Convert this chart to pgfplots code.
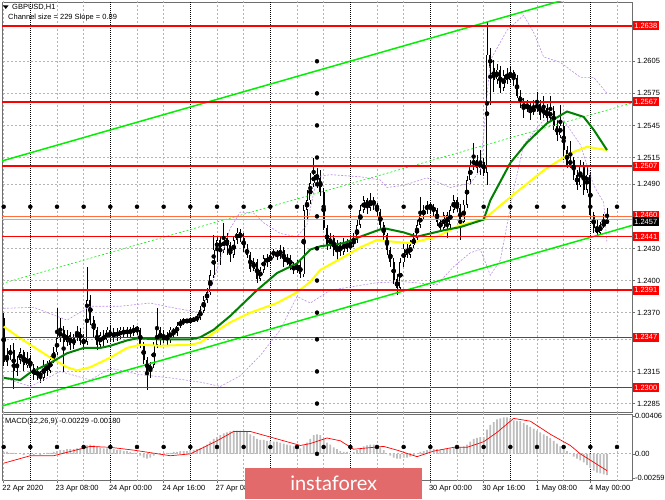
\documentclass[border=0pt]{standalone}
\usepackage{pgfplots}
\pgfplotsset{compat=1.18}
\usepackage{pgfplotstable}
\usepackage{fontspec}
\setmainfont{Liberation Sans}
\newfontfamily\logofont{Lato}
\definecolor{mtgreen}{RGB}{0,128,0}
\definecolor{chgreen}{RGB}{0,240,0}
\definecolor{mtyellow}{RGB}{255,255,0}
\definecolor{bandpurple}{RGB}{190,140,235}
\definecolor{gridgray}{RGB}{180,180,180}
\definecolor{framegray}{RGB}{110,110,110}
\definecolor{logored}{RGB}{226,106,106}
\definecolor{histgray}{RGB}{190,190,190}
\definecolor{lvlorange}{RGB}{255,110,60}
\newcommand\lbl{\fontsize{7.5}{8}\selectfont}

\pgfplotstableread{
i o h l c m
0 1.2365 1.2370 1.2320 1.2324 0.0002
1 1.2324 1.2337 1.2320 1.2330 0.0002
2 1.2330 1.2340 1.2326 1.2335 0.0001
3 1.2335 1.2342 1.2299 1.2315 0.0001
4 1.2315 1.2329 1.2311 1.2326 0.0000
5 1.2326 1.2337 1.2322 1.2333 0.0000
6 1.2333 1.2335 1.2316 1.2321 -0.0001
7 1.2321 1.2333 1.2318 1.2328 0.0000
8 1.2328 1.2330 1.2313 1.2318 -0.0001
9 1.2318 1.2322 1.2307 1.2312 -0.0001
10 1.2312 1.2320 1.2307 1.2315 0.0000
11 1.2315 1.2316 1.2304 1.2309 -0.0001
12 1.2309 1.2326 1.2306 1.2321 0.0000
13 1.2321 1.2325 1.2311 1.2316 0.0001
14 1.2316 1.2329 1.2314 1.2326 0.0001
15 1.2326 1.2338 1.2323 1.2333 0.0002
16 1.2333 1.2374 1.2330 1.2346 0.0003
17 1.2346 1.2365 1.2343 1.2354 0.0004
18 1.2354 1.2358 1.2315 1.2343 0.0004
19 1.2343 1.2354 1.2339 1.2349 0.0005
20 1.2349 1.2352 1.2335 1.2340 0.0005
21 1.2340 1.2350 1.2336 1.2346 0.0005
22 1.2346 1.2358 1.2344 1.2352 0.0006
23 1.2352 1.2356 1.2340 1.2344 0.0006
24 1.2344 1.2350 1.2335 1.2343 0.0006
25 1.2343 1.2413 1.2340 1.2382 0.0009
26 1.2382 1.2387 1.2359 1.2363 0.0010
27 1.2363 1.2367 1.2346 1.2354 0.0009
28 1.2354 1.2357 1.2335 1.2340 0.0008
29 1.2340 1.2352 1.2337 1.2349 0.0007
30 1.2349 1.2354 1.2339 1.2344 0.0006
31 1.2344 1.2357 1.2342 1.2354 0.0006
32 1.2354 1.2358 1.2343 1.2346 0.0005
33 1.2346 1.2356 1.2343 1.2352 0.0005
34 1.2352 1.2356 1.2344 1.2348 0.0004
35 1.2348 1.2357 1.2345 1.2354 0.0004
36 1.2354 1.2357 1.2346 1.2350 0.0003
37 1.2350 1.2357 1.2347 1.2354 0.0003
38 1.2354 1.2357 1.2347 1.2351 0.0002
39 1.2351 1.2359 1.2348 1.2356 0.0001
40 1.2356 1.2358 1.2349 1.2354 0.0000
41 1.2354 1.2356 1.2337 1.2340 -0.0002
42 1.2340 1.2343 1.2322 1.2326 -0.0004
43 1.2326 1.2329 1.2298 1.2315 -0.0005
44 1.2315 1.2324 1.2309 1.2321 -0.0004
45 1.2321 1.2343 1.2318 1.2340 -0.0002
46 1.2340 1.2374 1.2337 1.2354 0.0000
47 1.2354 1.2357 1.2340 1.2344 0.0000
48 1.2344 1.2354 1.2342 1.2349 0.0001
49 1.2349 1.2352 1.2340 1.2344 0.0001
50 1.2344 1.2357 1.2342 1.2354 0.0001
51 1.2354 1.2356 1.2346 1.2351 0.0002
52 1.2351 1.2361 1.2348 1.2358 0.0002
53 1.2358 1.2364 1.2356 1.2361 0.0003
54 1.2361 1.2365 1.2359 1.2363 0.0003
55 1.2363 1.2364 1.2360 1.2362 0.0003
56 1.2362 1.2365 1.2361 1.2363 0.0004
57 1.2363 1.2366 1.2361 1.2364 0.0004
58 1.2364 1.2369 1.2361 1.2365 0.0005
59 1.2365 1.2376 1.2363 1.2372 0.0006
60 1.2372 1.2386 1.2370 1.2382 0.0008
61 1.2382 1.2393 1.2379 1.2389 0.0010
62 1.2389 1.2410 1.2387 1.2405 0.0013
63 1.2405 1.2443 1.2402 1.2429 0.0016
64 1.2429 1.2442 1.2417 1.2438 0.0018
65 1.2438 1.2442 1.2415 1.2429 0.0020
66 1.2429 1.2454 1.2426 1.2440 0.0022
67 1.2440 1.2445 1.2424 1.2433 0.0023
68 1.2433 1.2436 1.2417 1.2424 0.0024
69 1.2424 1.2442 1.2421 1.2438 0.0025
70 1.2438 1.2449 1.2434 1.2445 0.0025
71 1.2445 1.2448 1.2436 1.2440 0.0025
72 1.2440 1.2444 1.2427 1.2430 0.0025
73 1.2430 1.2434 1.2421 1.2424 0.0024
74 1.2424 1.2427 1.2408 1.2411 0.0021
75 1.2411 1.2421 1.2409 1.2417 0.0019
76 1.2417 1.2420 1.2398 1.2402 0.0016
77 1.2402 1.2413 1.2400 1.2410 0.0015
78 1.2410 1.2424 1.2407 1.2421 0.0015
79 1.2421 1.2425 1.2413 1.2417 0.0014
80 1.2417 1.2427 1.2415 1.2424 0.0014
81 1.2424 1.2430 1.2421 1.2427 0.0013
82 1.2427 1.2429 1.2419 1.2423 0.0013
83 1.2423 1.2433 1.2420 1.2429 0.0012
84 1.2429 1.2431 1.2413 1.2417 0.0011
85 1.2417 1.2425 1.2415 1.2421 0.0010
86 1.2421 1.2424 1.2410 1.2413 0.0009
87 1.2413 1.2417 1.2406 1.2410 0.0008
88 1.2410 1.2419 1.2407 1.2415 0.0007
89 1.2415 1.2418 1.2402 1.2406 0.0006
90 1.2406 1.2471 1.2403 1.2466 0.0009
91 1.2466 1.2485 1.2458 1.2475 0.0012
92 1.2475 1.2501 1.2472 1.2491 0.0016
93 1.2491 1.2515 1.2488 1.2499 0.0020
94 1.2499 1.2505 1.2487 1.2496 0.0021
95 1.2496 1.2503 1.2479 1.2483 0.0020
96 1.2483 1.2487 1.2447 1.2449 0.0016
97 1.2449 1.2452 1.2429 1.2433 0.0012
98 1.2433 1.2445 1.2430 1.2440 0.0010
99 1.2440 1.2443 1.2423 1.2429 0.0007
100 1.2429 1.2438 1.2419 1.2433 0.0005
101 1.2433 1.2436 1.2423 1.2427 0.0003
102 1.2427 1.2440 1.2424 1.2436 0.0002
103 1.2436 1.2439 1.2427 1.2430 0.0002
104 1.2430 1.2440 1.2429 1.2434 0.0001
105 1.2434 1.2445 1.2431 1.2438 0.0002
106 1.2438 1.2457 1.2435 1.2452 0.0004
107 1.2452 1.2471 1.2449 1.2466 0.0006
108 1.2466 1.2479 1.2463 1.2475 0.0008
109 1.2475 1.2477 1.2462 1.2468 0.0009
110 1.2468 1.2482 1.2465 1.2475 0.0010
111 1.2475 1.2478 1.2466 1.2471 0.0010
112 1.2471 1.2473 1.2460 1.2464 0.0009
113 1.2464 1.2467 1.2447 1.2452 0.0007
114 1.2452 1.2455 1.2438 1.2443 0.0004
115 1.2443 1.2445 1.2424 1.2429 0.0000
116 1.2429 1.2431 1.2413 1.2417 -0.0002
117 1.2417 1.2421 1.2397 1.2401 -0.0004
118 1.2401 1.2406 1.2387 1.2393 -0.0005
119 1.2393 1.2421 1.2389 1.2417 -0.0005
120 1.2417 1.2434 1.2413 1.2430 -0.0004
121 1.2430 1.2434 1.2421 1.2424 -0.0004
122 1.2424 1.2438 1.2421 1.2433 -0.0003
123 1.2433 1.2444 1.2430 1.2440 -0.0002
124 1.2440 1.2457 1.2438 1.2452 0.0000
125 1.2452 1.2478 1.2449 1.2461 0.0002
126 1.2461 1.2471 1.2457 1.2466 0.0003
127 1.2466 1.2474 1.2462 1.2471 0.0004
128 1.2471 1.2473 1.2463 1.2468 0.0005
129 1.2468 1.2472 1.2460 1.2466 0.0005
130 1.2466 1.2468 1.2451 1.2455 0.0005
131 1.2455 1.2458 1.2445 1.2449 0.0004
132 1.2449 1.2464 1.2446 1.2461 0.0005
133 1.2461 1.2464 1.2440 1.2452 0.0005
134 1.2452 1.2470 1.2449 1.2466 0.0006
135 1.2466 1.2480 1.2463 1.2475 0.0007
136 1.2475 1.2478 1.2464 1.2468 0.0007
137 1.2468 1.2472 1.2438 1.2455 0.0007
138 1.2455 1.2475 1.2452 1.2471 0.0008
139 1.2471 1.2498 1.2468 1.2494 0.0010
140 1.2494 1.2513 1.2490 1.2508 0.0013
141 1.2508 1.2529 1.2503 1.2513 0.0016
142 1.2513 1.2517 1.2501 1.2505 0.0017
143 1.2505 1.2522 1.2499 1.2511 0.0018
144 1.2511 1.2515 1.2498 1.2501 0.0018
145 1.2501 1.2642 1.2489 1.2611 0.0026
146 1.2611 1.2617 1.2564 1.2599 0.0031
147 1.2599 1.2606 1.2576 1.2588 0.0034
148 1.2588 1.2603 1.2584 1.2597 0.0037
149 1.2597 1.2601 1.2575 1.2580 0.0038
150 1.2580 1.2597 1.2577 1.2592 0.0039
151 1.2592 1.2599 1.2584 1.2588 0.0039
152 1.2588 1.2601 1.2585 1.2595 0.0038
153 1.2595 1.2597 1.2582 1.2589 0.0036
154 1.2589 1.2592 1.2571 1.2573 0.0035
155 1.2573 1.2578 1.2561 1.2566 0.0035
156 1.2566 1.2571 1.2552 1.2561 0.0033
157 1.2561 1.2569 1.2558 1.2564 0.0031
158 1.2564 1.2567 1.2550 1.2558 0.0029
159 1.2558 1.2569 1.2555 1.2561 0.0027
160 1.2561 1.2576 1.2558 1.2565 0.0025
161 1.2565 1.2569 1.2550 1.2555 0.0023
162 1.2555 1.2573 1.2552 1.2561 0.0021
163 1.2561 1.2565 1.2546 1.2552 0.0019
164 1.2552 1.2573 1.2548 1.2559 0.0017
165 1.2559 1.2563 1.2541 1.2545 0.0014
166 1.2545 1.2550 1.2531 1.2536 0.0011
167 1.2536 1.2564 1.2533 1.2545 0.0008
168 1.2545 1.2548 1.2513 1.2522 0.0005
169 1.2522 1.2526 1.2505 1.2508 0.0003
170 1.2508 1.2531 1.2505 1.2513 0.0000
171 1.2513 1.2516 1.2494 1.2499 -0.0003
172 1.2499 1.2503 1.2485 1.2489 -0.0005
173 1.2489 1.2513 1.2487 1.2508 -0.0007
174 1.2508 1.2511 1.2480 1.2485 -0.0009
175 1.2485 1.2508 1.2482 1.2499 -0.0012
176 1.2499 1.2501 1.2458 1.2461 -0.0015
177 1.2461 1.2464 1.2445 1.2449 -0.0018
178 1.2449 1.2457 1.2441 1.2445 -0.0020
179 1.2445 1.2455 1.2443 1.2452 -0.0021
180 1.2452 1.2462 1.2449 1.2453 -0.0022
181 1.2453 1.2468 1.2453 1.2457 -0.00229
}\bars

\tikzset{lvlbox/.style={fill=red, text=white, anchor=west, font=\lbl, inner xsep=1.5pt, inner ysep=0pt, minimum height=9pt, xshift=0.6pt}}

\begin{document}
\begin{tikzpicture}
\fill[white] (0,0) rectangle (665pt,499pt);
\useasboundingbox (0,0) rectangle (665pt,499pt);

% ---------------- main price panel ----------------
\begin{axis}[
  at={(2pt,497pt)}, anchor=north west,
  scale only axis, width=630pt, height=410pt,
  xmin=-0.5, xmax=188.5, ymin=1.22771, ymax=1.26604,
  axis line style={framegray, line width=0.8pt},
  xtick=\empty,
  ytick={1.2285,1.2315,1.2345,1.2370,1.2400,1.2430,1.2460,1.2490,1.2515,1.2545,1.2575,1.2605},
  yticklabels={1.2285,1.2315,,1.2370,1.2400,1.2430,,1.2490,1.2515,1.2545,1.2575,1.2605},
  ytick pos=right, tick align=outside, major tick length=3pt,
  ytick style={framegray, line width=0.6pt},
  yticklabel style={font=\lbl, xshift=-1.5pt},
]
% grid: horizontal dashed lines at the price ticks
\addplot[only marks, mark=none, forget plot, error bars/.cd, x dir=both, x explicit, error mark=none,
  error bar style={gridgray, line width=0.8pt, dash pattern=on 2pt off 2pt}] coordinates {
(94,1.2285) +- (95,0) (94,1.2315) +- (95,0) (94,1.2345) +- (95,0) (94,1.2370) +- (95,0)
(94,1.2400) +- (95,0) (94,1.2430) +- (95,0) (94,1.2460) +- (95,0) (94,1.2490) +- (95,0)
(94,1.2515) +- (95,0) (94,1.2545) +- (95,0) (94,1.2575) +- (95,0) (94,1.2605) +- (95,0)};
% grid: vertical dashed lines every 8 bars
\addplot[only marks, mark=none, forget plot, error bars/.cd, y dir=both, y explicit, error mark=none,
  error bar style={gridgray, line width=0.8pt, dash pattern=on 2pt off 2pt}] coordinates {
(0,1.2469) +- (0,0.0200) (16,1.2469) +- (0,0.0200) (24,1.2469) +- (0,0.0200) (40,1.2469) +- (0,0.0200)
(48,1.2469) +- (0,0.0200) (64,1.2469) +- (0,0.0200) (72,1.2469) +- (0,0.0200) (88,1.2469) +- (0,0.0200)
(96,1.2469) +- (0,0.0200) (112,1.2469) +- (0,0.0200) (120,1.2469) +- (0,0.0200) (136,1.2469) +- (0,0.0200)
(144,1.2469) +- (0,0.0200) (160,1.2469) +- (0,0.0200) (168,1.2469) +- (0,0.0200) (184,1.2469) +- (0,0.0200)};
% day separators: black dotted
\addplot[only marks, mark=none, forget plot, error bars/.cd, y dir=both, y explicit, error mark=none,
  error bar style={black, line width=0.8pt, dash pattern=on 1pt off 1pt}] coordinates {
(8,1.2469) +- (0,0.0200) (32,1.2469) +- (0,0.0200) (56,1.2469) +- (0,0.0200) (80,1.2469) +- (0,0.0200)
(104,1.2469) +- (0,0.0200) (128,1.2469) +- (0,0.0200) (152,1.2469) +- (0,0.0200) (176,1.2469) +- (0,0.0200)};

% candles: wicks, bodies, white fill of rising bodies
\addplot[only marks, mark=none, forget plot, error bars/.cd, y dir=both, y explicit, error mark=none,
  error bar style={black, line width=0.6pt}]
  table[x=i, y expr={(\thisrow{h}+\thisrow{l})/2}, y error expr={(\thisrow{h}-\thisrow{l})/2}] {\bars};
\addplot[only marks, mark=none, forget plot, error bars/.cd, y dir=both, y explicit, error mark=none,
  error bar style={black, line width=2.2pt}]
  table[x=i, y expr={(\thisrow{o}+\thisrow{c})/2}, y error expr={max(abs(\thisrow{c}-\thisrow{o})/2,0.00003)}] {\bars};
\addplot[only marks, mark=none, forget plot, error bars/.cd, y dir=both, y explicit, error mark=none,
  error bar style={white, line width=1.0pt}]
  table[x=i, y expr={(\thisrow{o}+\thisrow{c})/2}, y error expr={max((\thisrow{c}-\thisrow{o})/2-0.00006,0)}] {\bars};

% envelope / band lines
\addplot[bandpurple, line width=0.6pt, dash pattern=on 2pt off 1.5pt, forget plot] coordinates {
(0,1.2374) (9,1.2375) (19,1.2363) (26,1.2376) (35,1.2376) (44,1.2379) (50,1.2375) (59,1.2370) (63,1.2401) (68,1.2449) (71,1.2464) (75,1.2463) (78,1.2454) (83,1.2444) (88,1.2441) (91,1.2452) (94,1.2497) (98,1.2499) (107,1.2497) (113,1.2494) (115,1.2487) (120,1.2489) (127,1.2496) (134,1.2487) (140,1.2491) (143,1.2503) (146,1.2606) (151,1.2634) (156,1.2648) (159,1.2632) (162,1.2609) (167,1.2604) (173,1.2590) (177,1.2590) (181,1.2575)};
\addplot[bandpurple, line width=0.6pt, dash pattern=on 2pt off 1.5pt, forget plot] coordinates {
(0,1.2309) (8,1.2301) (17,1.2315) (26,1.2307) (32,1.2318) (41,1.2312) (50,1.2309) (59,1.2305) (65,1.2301) (71,1.2311) (77,1.2330) (83,1.2354) (88,1.2385) (92,1.2379) (98,1.2391) (104,1.2394) (112,1.2398) (120,1.2399) (130,1.2396) (135,1.2413) (140,1.2426) (143,1.2429) (146,1.2405) (149,1.2419) (153,1.2485) (156,1.2527) (162,1.2550) (168,1.2550) (173,1.2527) (177,1.2489) (180,1.2473) (181,1.2435)};

% channel
\addplot[chgreen, line width=1.5pt, forget plot] coordinates {(-0.5,1.25118) (188.5,1.26805)};
\addplot[chgreen, line width=1.5pt, forget plot] coordinates {(-0.5,1.22827) (188.5,1.24515)};
\addplot[chgreen, line width=0.6pt, dash pattern=on 2pt off 2pt, forget plot] coordinates {(-0.5,1.23972) (188.5,1.25660)};

% moving averages
\addplot[mtyellow, line width=2pt, forget plot] coordinates {
(0,1.2357) (5,1.2346) (9,1.2338) (14,1.2328) (19,1.2319) (22,1.2316) (26,1.2319) (32,1.2328) (37,1.2337) (41,1.2340) (47,1.2339) (56,1.2340) (59,1.2342) (63,1.2351) (68,1.2361) (74,1.2370) (82,1.2379) (88,1.2389) (92,1.2399) (95,1.2410) (102,1.2422) (107,1.2431) (112,1.2438) (118,1.2436) (122,1.2435) (130,1.2441) (137,1.2452) (144,1.2457) (152,1.2478) (162,1.2503) (170,1.2519) (175,1.2525) (181,1.2522)};
\addplot[mtgreen, line width=2pt, forget plot] coordinates {
(0,1.2309) (5,1.2307) (8,1.2314) (14,1.2323) (19,1.2332) (24,1.2337) (29,1.2337) (32,1.2339) (37,1.2344) (40,1.2346) (47,1.2345) (56,1.2345) (59,1.2347) (63,1.2354) (68,1.2367) (76,1.2391) (82,1.2407) (88,1.2416) (92,1.2429) (95,1.2432) (102,1.2435) (107,1.2441) (114,1.2449) (120,1.2445) (124,1.2441) (132,1.2447) (137,1.2450) (144,1.2457) (146,1.2475) (152,1.2510) (157,1.2529) (163,1.2547) (169,1.2558) (174,1.2553) (177,1.2541) (181,1.2522)};

% price levels
\addplot[gray!60, line width=0.6pt, forget plot] coordinates {(-0.5,1.2457) (188.5,1.2457)};
\addplot[lvlorange, line width=0.7pt, forget plot] coordinates {(-0.5,1.2460) (188.5,1.2460)};
\addplot[red, line width=1.4pt, forget plot] coordinates {(-0.5,1.2638) (188.5,1.2638)};
\addplot[red, line width=1.4pt, forget plot] coordinates {(-0.5,1.2567) (188.5,1.2567)};
\addplot[red, line width=1.4pt, forget plot] coordinates {(-0.5,1.2507) (188.5,1.2507)};
\addplot[red, line width=1.4pt, forget plot] coordinates {(-0.5,1.2441) (188.5,1.2441)};
\addplot[red, line width=1.4pt, forget plot] coordinates {(-0.5,1.2391) (188.5,1.2391)};
\addplot[red, line width=1.4pt, forget plot] coordinates {(-0.5,1.2347) (188.5,1.2347)};
\addplot[red, line width=1.4pt, forget plot] coordinates {(-0.5,1.2300) (188.5,1.2300)};

\coordinate (r2638) at (axis cs:188.5,1.2638);
\coordinate (r2567) at (axis cs:188.5,1.2567);
\coordinate (r2507) at (axis cs:188.5,1.2507);
\coordinate (r2460) at (axis cs:188.5,1.2461);
\coordinate (r2457) at (axis cs:188.5,1.2455);
\coordinate (r2441) at (axis cs:188.5,1.2441);
\coordinate (r2391) at (axis cs:188.5,1.2391);
\coordinate (r2347) at (axis cs:188.5,1.2347);
\coordinate (r2300) at (axis cs:188.5,1.2300);
\end{axis}

% ---------------- MACD panel ----------------
\begin{axis}[
  at={(2pt,85pt)}, anchor=north west,
  scale only axis, width=630pt, height=66pt,
  xmin=-0.5, xmax=188.5, ymin=-0.00280, ymax=0.00427,
  axis line style={framegray, line width=0.8pt},
  xtick={0,16,32,48,64,128,144,160,176},
  xticklabels={22 Apr 2020,23 Apr 08:00,24 Apr 00:00,24 Apr 16:00,27 Apr 08:00,30 Apr 00:00,30 Apr 16:00,1 May 08:00,4 May 00:00},
  xtick pos=bottom, tick align=outside, major tick length=3pt,
  xtick style={framegray, line width=0.6pt},
  xticklabel style={font=\lbl, anchor=north west, inner sep=0pt, xshift=-1.5pt, yshift=-2.5pt},
  ytick={-0.00259,0,0.00406}, yticklabels={-0.00259,0.00,\raisebox{-3pt}{0.00406}},
  ytick pos=right, ytick style={framegray, line width=0.6pt},
  yticklabel style={font=\lbl, xshift=-3.5pt},
  scaled y ticks=false,
]
% zero line and vertical grid
\addplot[only marks, mark=none, forget plot, error bars/.cd, x dir=both, x explicit, error mark=none,
  error bar style={gridgray, line width=0.8pt, dash pattern=on 2pt off 2pt}] coordinates {(94,0) +- (95,0)};
\addplot[only marks, mark=none, forget plot, error bars/.cd, y dir=both, y explicit, error mark=none,
  error bar style={gridgray, line width=0.8pt, dash pattern=on 2pt off 2pt}] coordinates {
(0,0.00074) +- (0,0.0037) (16,0.00074) +- (0,0.0037) (24,0.00074) +- (0,0.0037) (40,0.00074) +- (0,0.0037)
(48,0.00074) +- (0,0.0037) (64,0.00074) +- (0,0.0037) (72,0.00074) +- (0,0.0037) (88,0.00074) +- (0,0.0037)
(96,0.00074) +- (0,0.0037) (112,0.00074) +- (0,0.0037) (120,0.00074) +- (0,0.0037) (136,0.00074) +- (0,0.0037)
(144,0.00074) +- (0,0.0037) (160,0.00074) +- (0,0.0037) (168,0.00074) +- (0,0.0037) (184,0.00074) +- (0,0.0037)};
\addplot[only marks, mark=none, forget plot, error bars/.cd, y dir=both, y explicit, error mark=none,
  error bar style={black, line width=0.8pt, dash pattern=on 1pt off 1pt}] coordinates {
(8,0.00074) +- (0,0.0037) (32,0.00074) +- (0,0.0037) (56,0.00074) +- (0,0.0037) (80,0.00074) +- (0,0.0037)
(104,0.00074) +- (0,0.0037) (128,0.00074) +- (0,0.0037) (152,0.00074) +- (0,0.0037) (176,0.00074) +- (0,0.0037)};
\addplot[ybar, bar width=1.7pt, bar shift=0pt, fill=histgray, draw=none, forget plot] table[x=i, y=m] {\bars};
\addplot[red, line width=0.7pt, forget plot] coordinates {
(0,-0.0010) (8,-0.0002) (15,-0.0002) (26,0.0008) (32,0.0007) (39,0.0004) (50,-0.0002) (56,0.0000) (64,0.0014) (69,0.0024) (74,0.0024) (80,0.0018) (89,0.0009) (92,0.0011) (97,0.0017) (101,0.0014) (105,0.0005) (114,0.0008) (118,0.0004) (124,-0.0003) (129,0.0003) (135,0.0007) (139,0.0007) (144,0.0013) (148,0.0023) (153,0.0038) (158,0.0035) (164,0.0021) (170,0.0009) (173,0.0000) (181,-0.0018)};
\end{axis}

% level labels on the price scale
\node[lvlbox] at (r2638) {1.2638};
\node[lvlbox] at (r2567) {1.2567};
\node[lvlbox] at (r2507) {1.2507};
\node[lvlbox] at (r2460) {1.2460};
\node[lvlbox, fill=black] at (r2457) {1.2457};
\node[lvlbox] at (r2441) {1.2441};
\node[lvlbox] at (r2391) {1.2391};
\node[lvlbox] at (r2347) {1.2347};
\node[lvlbox] at (r2300) {1.2300};

% titles
\fill[black] (3pt,493.5pt) -- (8.5pt,493.5pt) -- (5.75pt,490pt) -- cycle;
\node[anchor=west, font=\lbl, inner sep=0pt] at (12pt,491.7pt) {GBPUSD,H1};
\node[anchor=west, font=\lbl, inner sep=0pt] at (8pt,481.5pt) {Channel size = 229 Slope = 0.89};
\node[anchor=west, font=\lbl, inner sep=0pt] at (5pt,77pt) {MACD(12,26,9) -0.00229 -0.00180};

% logo
\node[fill=logored, anchor=south west, minimum width=177pt, minimum height=31pt, inner sep=0pt,
  text=white, font=\logofont\fontsize{20}{20}\selectfont] at (245pt,0pt) {instaforex};
\end{tikzpicture}
\end{document}
